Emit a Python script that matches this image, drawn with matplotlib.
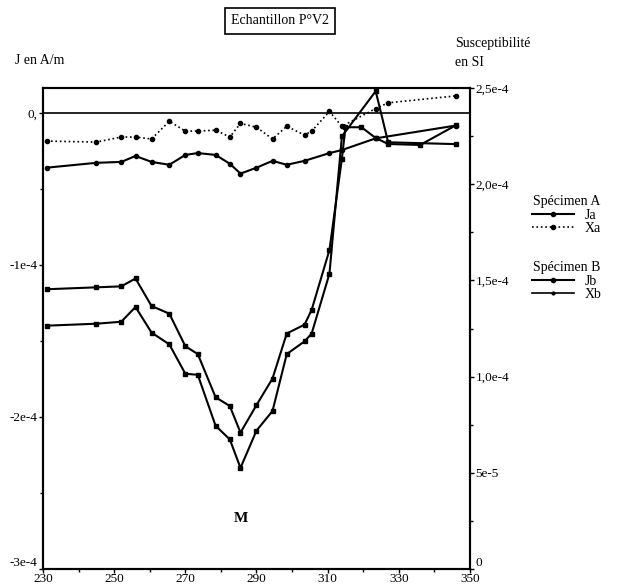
import matplotlib.pyplot as plt
from matplotlib.lines import Line2D

plt.rcParams['font.family'] = ['Liberation Serif', 'DejaVu Serif']

# spécimen A
xa_pos = [231, 245, 252, 256, 260.5, 265.5, 270, 273.5, 278.5, 282.5, 285.5, 290,
          294.5, 298.5, 303.5, 310.5, 314, 323.5, 346]
ja = [-0.361, -0.329, -0.323, -0.284, -0.323, -0.342, -0.277, -0.265, -0.277, -0.335,
      -0.400, -0.361, -0.316, -0.342, -0.316, -0.265, -0.245, -0.168, -0.084]

xs_pos = [231, 245, 252, 256, 260.5, 265.5, 270, 273.5, 278.5, 282.5, 285.5, 290,
          294.5, 298.5, 303.5, 305.5, 310.5, 314, 323.5, 327, 346]
xa = [2.224, 2.219, 2.245, 2.245, 2.235, 2.327, 2.276, 2.276, 2.281, 2.245, 2.316, 2.296,
      2.235, 2.301, 2.255, 2.276, 2.378, 2.301, 2.393, 2.423, 2.459]

# spécimen B
jb_pos = [231, 245, 252, 256, 260.5, 265.5, 270, 273.5, 278.5, 282.5, 285.5, 290,
          294.5, 298.5, 303.5, 305.5, 310.5, 314, 323.5, 327, 346]
jb = [-1.400, -1.387, -1.374, -1.277, -1.445, -1.523, -1.716, -1.723, -2.058, -2.148,
      -2.335, -2.090, -1.961, -1.587, -1.503, -1.452, -1.058, -0.155, 0.142, -0.194, -0.206]

xb_pos = [231, 245, 252, 256, 260.5, 265.5, 270, 273.5, 278.5, 282.5, 285.5, 290,
          294.5, 298.5, 303.5, 305.5, 310.5, 314, 315, 319.5, 323.5, 327, 336, 346]
xb = [1.454, 1.464, 1.469, 1.510, 1.367, 1.327, 1.158, 1.117, 0.893, 0.847, 0.709, 0.852,
      0.990, 1.224, 1.270, 1.347, 1.658, 2.133, 2.296, 2.296, 2.240, 2.209, 2.204, 2.306]

fig = plt.figure(figsize=(6.19, 5.88), dpi=100)
ax = fig.add_axes([43/619, 19/588, 427/619, 481/588])
ax2 = ax.twinx()

ax.plot(xa_pos, [v*1e-4 for v in ja], color='black', lw=1.5, marker='o', ms=3)
ax.plot(jb_pos, [v*1e-4 for v in jb], color='black', lw=1.5, marker='s', ms=3.5)
ax2.plot(xs_pos, [v*1e-4 for v in xa], color='black', lw=1.2, ls=':', marker='o', ms=3)
ax2.plot(xb_pos, [v*1e-4 for v in xb], color='black', lw=1.5, marker='s', ms=3.5)

ax.axhline(0, color='black', lw=1.2)

ax.set_xlim(230, 350)
ax.set_ylim(-3e-4, 0.163e-4)
ax2.set_ylim(0, 2.5e-4)

ax.set_xticks([230, 250, 270, 290, 310, 330, 350])
ax.set_xticks(range(240, 350, 20), minor=True)
ax.set_yticks([0, -1e-4, -2e-4, -3e-4])
ax.set_yticklabels(['0,', '-1e-4', '-2e-4', '-3e-4'])
ax.set_yticks([-0.5e-4, -1.5e-4, -2.5e-4], minor=True)
ax2.set_yticks([0, 0.5e-4, 1e-4, 1.5e-4, 2e-4, 2.5e-4])
ax2.set_yticklabels(['0', '5e-5', '1,0e-4', '1,5e-4', '2,0e-4', '2,5e-4'])
ax2.set_yticks([0.25e-4, 0.75e-4, 1.25e-4, 1.75e-4, 2.25e-4], minor=True)

for a in (ax, ax2):
    a.tick_params(which='major', length=3, width=1, labelsize=9.5, pad=1)
    a.tick_params(which='minor', length=2, width=1)
    for s in a.spines.values():
        s.set_linewidth(1.5)
ax.tick_params(axis='x', pad=0)

# bottom labels of both y axes sit a little above the x labels
ax.get_yticklabels()[-1].set_va('bottom')
ax2.get_yticklabels()[0].set_va('bottom')

fig.text(40/619, 1 - 60/588, 'J en A/m', fontsize=10, ha='center', va='center')
fig.text(455/619, 1 - 43/588, 'Susceptibilité', fontsize=10, ha='left', va='center')
fig.text(455/619, 1 - 62/588, 'en SI', fontsize=10, ha='left', va='center')
fig.text(280/619, 1 - 21/588, 'Echantillon P°V2', fontsize=10, ha='center', va='center',
         bbox=dict(boxstyle='square,pad=0.45', fc='white', ec='black', lw=1.2))
ax.text(285.5, -2.67e-4, 'M', fontsize=11, fontweight='bold', ha='center', va='center')

ha = [Line2D([], [], color='black', lw=1.5, marker='o', ms=3),
      Line2D([], [], color='black', lw=1.2, ls=':', marker='o', ms=3)]
hb = [Line2D([], [], color='black', lw=1.5, marker='o', ms=3),
      Line2D([], [], color='black', lw=1.2, marker='o', ms=2)]
fig.legend(ha, ['Ja', 'Xa'], title='Spécimen A', loc='upper left',
           bbox_to_anchor=(525/619, 1 - 188/588), frameon=False, fontsize=10,
           title_fontsize=10, handlelength=3, labelspacing=0.05, borderpad=0)
fig.legend(hb, ['Jb', 'Xb'], title='Spécimen B', loc='upper left',
           bbox_to_anchor=(525/619, 1 - 254/588), frameon=False, fontsize=10,
           title_fontsize=10, handlelength=3, labelspacing=0.05, borderpad=0)

fig.savefig('out.png', dpi=100)
